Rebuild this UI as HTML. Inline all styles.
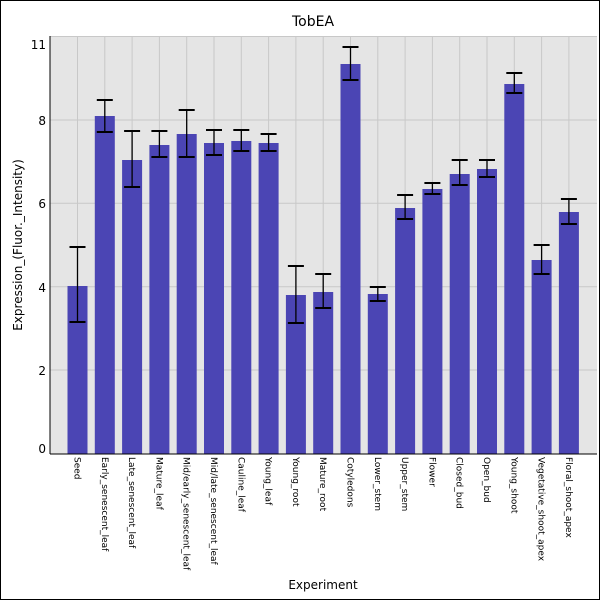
<!DOCTYPE html>
<html><head><style>body{margin:0;background:#fff}svg{display:block}</style></head><body>
<svg width="600" height="600" xmlns="http://www.w3.org/2000/svg" font-family="DejaVu Sans, Liberation Sans, sans-serif">
<rect x="0.5" y="0.5" width="599" height="599" fill="#fff" stroke="#000"/>
<text x="313" y="26" font-size="14" text-anchor="middle">TobEA</text>
<rect x="50" y="36" width="547" height="418" fill="#e5e5e5"/>
<g stroke="#c8c8c8" stroke-width="1">
<line x1="50" x2="597" y1="36.5" y2="36.5"/>
<line x1="50" x2="597" y1="120" y2="120"/>
<line x1="50" x2="597" y1="203.3" y2="203.3"/>
<line x1="50" x2="597" y1="286.7" y2="286.7"/>
<line x1="50" x2="597" y1="370" y2="370"/>
<g id="vg"></g>
</g>
<g id="bars"></g>
<line x1="50" y1="36" x2="50" y2="454" stroke="#000"/>
<line x1="50" y1="454" x2="597" y2="454" stroke="#000"/>
<g font-size="12" text-anchor="end">
<text x="46" y="49">11</text>
<text x="46" y="125">8</text>
<text x="46" y="208">6</text>
<text x="46" y="292">4</text>
<text x="46" y="375">2</text>
<text x="46" y="453">0</text>
</g>
<text transform="translate(22,245) rotate(-90)" font-size="12" text-anchor="middle">Expression_(Fluor._Intensity)</text>
<text x="323" y="589" font-size="12" text-anchor="middle">Experiment</text>
<g id="xl" font-size="9"></g>
<script>
var d=[["Seed",286,247,322],["Early_senescent_leaf",116,100,132],["Late_senescent_leaf",160,131,187],["Mature_leaf",145,131,157],["Mid/early_senescent_leaf",134,110,157],["Mid/late_senescent_leaf",143,130,155],["Cauline_leaf",141,130,151],["Young_leaf",143,134,151],["Young_root",295,266,323],["Mature_root",292,274,308],["Cotyledons",64,47,80],["Lower_stem",294,287,301],["Upper_stem",208,195,219],["Flower",189,183,194],["Closed_bud",174,160,185],["Open_bud",169,160,177],["Young_shoot",84,73,93],["Vegetative_shoot_apex",260,245,274],["Floral_shoot_apex",212,199,224]];
var ns="http://www.w3.org/2000/svg",vg=document.getElementById("vg"),b=document.getElementById("bars"),xl=document.getElementById("xl");
function el(p,t,a,tx){var e=document.createElementNS(ns,t);for(var k in a)e.setAttribute(k,a[k]);if(tx)e.textContent=tx;p.appendChild(e);return e;}
d.forEach(function(r,i){var x=77.5+i*27.3;
el(vg,"line",{x1:x,x2:x,y1:36,y2:454});
el(b,"rect",{x:x-10,y:r[1],width:20,height:454-r[1],fill:"#4b45b4"});
el(b,"line",{x1:x,x2:x,y1:r[2],y2:r[3],stroke:"#000","stroke-width":1.3});
el(b,"line",{x1:x-8,x2:x+8,y1:r[2],y2:r[2],stroke:"#000","stroke-width":2});
el(b,"line",{x1:x-8,x2:x+8,y1:r[3],y2:r[3],stroke:"#000","stroke-width":2});
el(xl,"text",{transform:"translate("+(x-3)+",457) rotate(90)"},r[0]);
});
</script>
</svg>
</body></html>
